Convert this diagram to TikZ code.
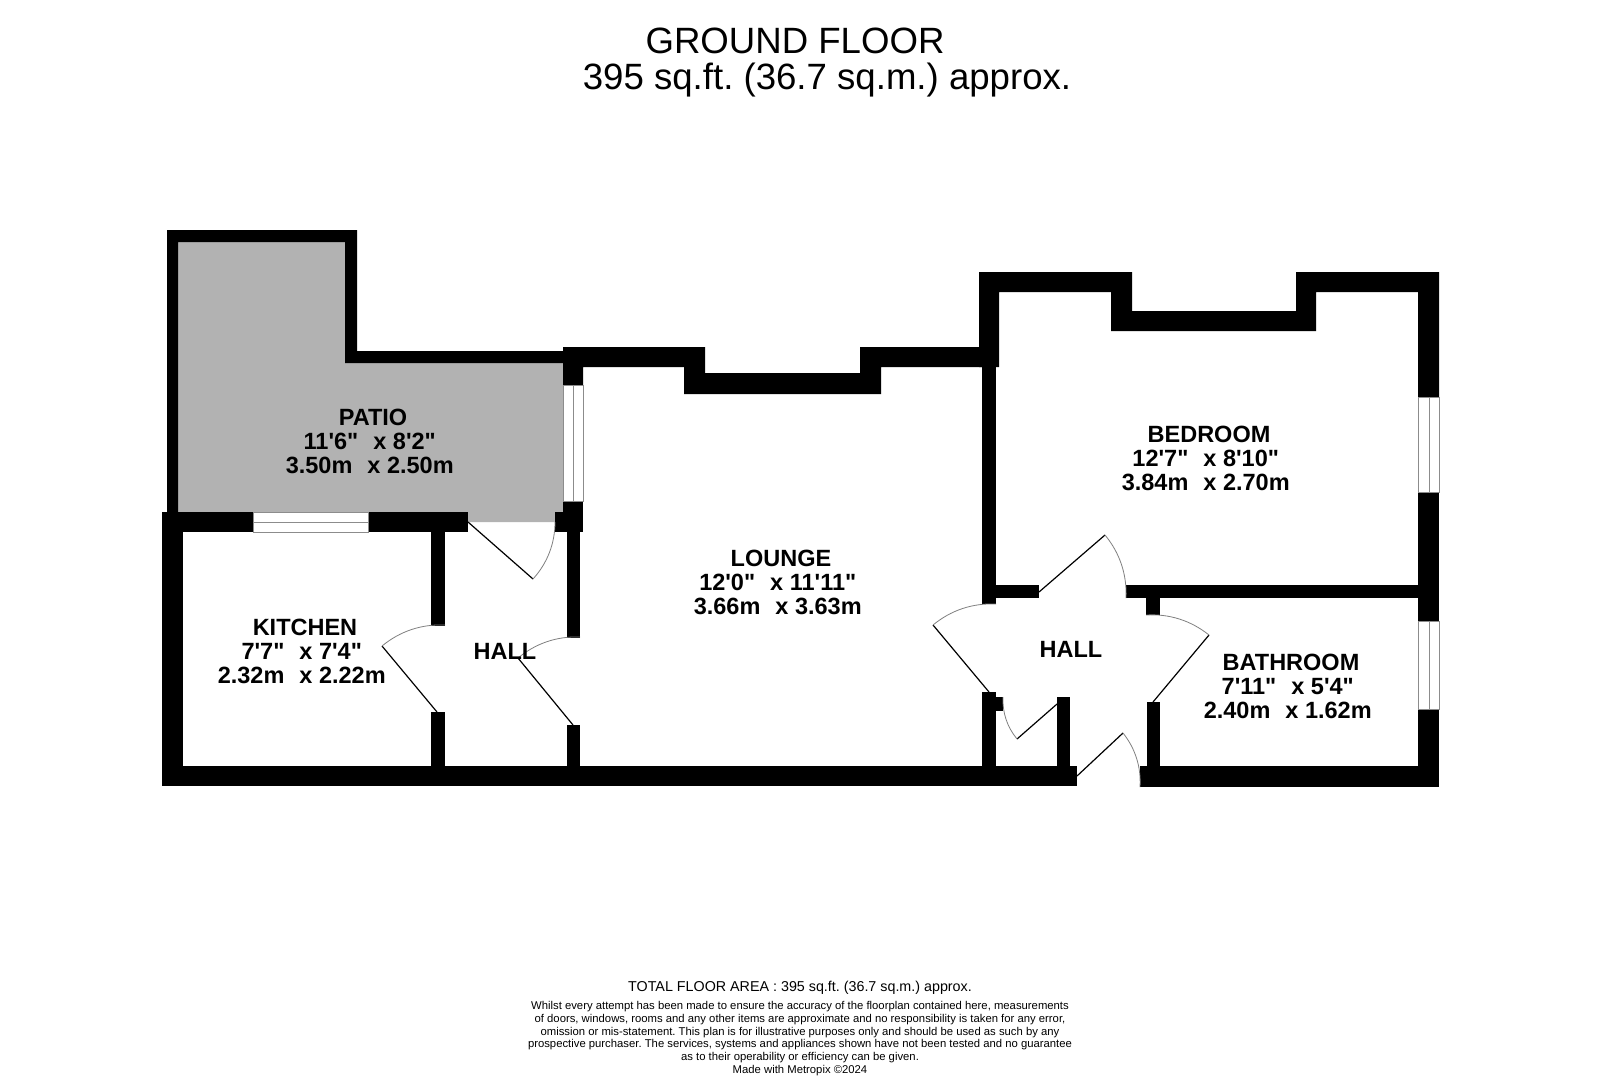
\documentclass[tikz,border=0pt]{standalone}
\usepackage{fontspec}
\newfontfamily\planfont{Liberation Sans}
\newcommand{\widegap}{\ \ \kern2pt}
\newcommand{\tailgap}{\kern6.5pt}
\frenchspacing

\begin{document}
\begin{tikzpicture}
[x=1pt,y=-1pt,
wall/.style={fill=black},
pane/.style={draw=black!45,fill=white,line width=0.8pt},
patio/.style={fill=black!30},
leaf/.style={draw=black,line width=1.2pt},
swing/.style={draw=black!50,line width=0.8pt,looseness=0.9},
room/.style={font=\planfont\bfseries\fontsize{23.5}{24}\selectfont,align=center,inner sep=0pt},
heading/.style={font=\planfont\fontsize{36.6}{38}\selectfont,inner sep=0pt},
notice/.style={font=\planfont\fontsize{11.3}{12.65}\selectfont,align=center,inner sep=0pt}]
\useasboundingbox (0,0) rectangle (1600,1076);
\fill[white] (0,0) rectangle (1600,1076);
% patio floor
\fill[patio] (178,242) -- (345,242) -- (345,363) -- (563,363) -- (563,522) -- (468,522) -- (468,512) -- (178,512) -- cycle;
% patio walls
\fill[wall] (167,230) -- (357,230) -- (357,351) -- (563,351) -- (563,363) -- (345,363) -- (345,242) -- (178,242) -- (178,512) -- (167,512) -- cycle;
% kitchen and left hall
\fill[wall] (162,512) rectangle (253,532);
\fill[wall] (368,512) rectangle (468,532);
\fill[wall] (162,512) rectangle (183,786);
\fill[wall] (162,766) rectangle (1077,786);
\fill[wall] (431,532) rectangle (445,626);
\fill[wall] (431,712) rectangle (445,766);
\fill[wall] (567,532) rectangle (580,638);
\fill[wall] (567,725) rectangle (580,766);
\fill[wall] (563,501) rectangle (583,532);
\fill[wall] (555,512) rectangle (563,532);
% lounge top
\fill[wall] (563,347) -- (705,347) -- (705,373) -- (860,373) -- (860,347) -- (982,347) -- (982,367) -- (881,367) -- (881,394) -- (684,394) -- (684,367) -- (583,367) -- (583,385) -- (563,385) -- cycle;
\fill[wall] (982,360) rectangle (996,604);
% bedroom
\fill[wall] (979,272) -- (1132,272) -- (1132,311) -- (1296,311) -- (1296,272) -- (1439,272) -- (1439,397) -- (1418,397) -- (1418,292) -- (1316,292) -- (1316,331) -- (1111,331) -- (1111,292) -- (999,292) -- (999,367) -- (979,367) -- cycle;
\fill[wall] (996,585) rectangle (1039,598);
\fill[wall] (1126,585) rectangle (1418,598);
\fill[wall] (1146,598) rectangle (1160,615);
\fill[wall] (1418,492) rectangle (1439,621);
% bathroom
\fill[wall] (1418,709) rectangle (1439,787);
\fill[wall] (1140,766) rectangle (1439,787);
\fill[wall] (1147,702) rectangle (1160,766);
% cupboard under the right hall
\fill[wall] (982,692) rectangle (996,766);
\fill[wall] (996,697) rectangle (1003,711);
\fill[wall] (1057,697) rectangle (1070,766);
% windows
\draw[pane] (253,512) rectangle (368,532);
\draw[pane] (253,522) -- (368,522);
\draw[pane] (563,385) rectangle (583,501);
\draw[pane] (573,385) -- (573,501);
\draw[pane] (1418,397) rectangle (1439,492);
\draw[pane] (1429,397) -- (1429,492);
\draw[pane] (1418,621) rectangle (1439,709);
\draw[pane] (1429,621) -- (1429,709);
% doors
\coordinate (h1) at (468,522);
\coordinate (t1) at (533,579);
\coordinate (e1) at (555,522);
\coordinate (h2) at (437,712);
\coordinate (t2) at (382,646);
\coordinate (e2) at (445,625);
\coordinate (h3) at (573,725);
\coordinate (t3) at (518,658);
\coordinate (e3) at (580,637);
\coordinate (h4) at (1039,592);
\coordinate (t4) at (1105,535);
\coordinate (e4) at (1126,598);
\coordinate (h5) at (989,692);
\coordinate (t5) at (933,625);
\coordinate (e5) at (996,604);
\coordinate (h6) at (1057,704);
\coordinate (t6) at (1017,739);
\coordinate (e6) at (1003,697);
\coordinate (h7) at (1077,776);
\coordinate (t7) at (1123,733);
\coordinate (e7) at (1140,787);
\coordinate (h8) at (1153,702);
\coordinate (t8) at (1209,635);
\coordinate (e8) at (1146,615);
\draw[leaf] (h1) -- (t1);
\draw[swing] (t1) to[bend right=21] (e1);
\draw[leaf] (h2) -- (t2);
\draw[swing] (t2) to[bend left=21] (e2);
\draw[leaf] (h3) -- (t3);
\draw[swing] (t3) to[bend left=21] (e3);
\draw[leaf] (h4) -- (t4);
\draw[swing] (t4) to[bend left=21] (e4);
\draw[leaf] (h5) -- (t5);
\draw[swing] (t5) to[bend left=21] (e5);
\draw[leaf] (h6) -- (t6);
\draw[swing] (t6) to[bend left=21] (e6);
\draw[leaf] (h7) -- (t7);
\draw[swing] (t7) to[bend left=21] (e7);
\draw[leaf] (h8) -- (t8);
\draw[swing] (t8) to[bend right=21] (e8);
% labels
\node[heading] at (795,41) (title) {GROUND FLOOR};
\node[heading] at (827,80) (area) {395 sq.ft. (36.7 sq.m.) approx.};
\node[room] at (373,441) (pationame) {PATIO\\11'6"\widegap x 8'2"\tailgap\\3.50m\widegap x 2.50m\tailgap};
\node[room] at (305,651) (kitchen) {KITCHEN\\7'7"\widegap x 7'4"\tailgap\\2.32m\widegap x 2.22m\tailgap};
\node[room] at (505,651) (hallone) {HALL};
\node[room] at (781,582) (lounge) {LOUNGE\\12'0"\widegap x 11'11"\tailgap\\3.66m\widegap x 3.63m\tailgap};
\node[room] at (1209,458) (bedroom) {BEDROOM\\12'7"\widegap x 8'10"\tailgap\\3.84m\widegap x 2.70m\tailgap};
\node[room] at (1071,649) (halltwo) {HALL};
\node[room] at (1291,686) (bathroom) {BATHROOM\\7'11"\widegap x 5'4"\tailgap\\2.40m\widegap x 1.62m\tailgap};
\node[font=\planfont\fontsize{14.3}{16}\selectfont,inner sep=0pt] at (800,988) (total) {TOTAL FLOOR AREA : 395 sq.ft. (36.7 sq.m.) approx.};
\node[notice,anchor=north] at (800,1001.5) (small) {Whilst every attempt has been made to ensure the accuracy of the floorplan contained here, measurements\\of doors, windows, rooms and any other items are approximate and no responsibility is taken for any error,\\omission or mis-statement. This plan is for illustrative purposes only and should be used as such by any\\prospective purchaser. The services, systems and appliances shown have not been tested and no guarantee\\as to their operability or efficiency can be given.\\Made with Metropix ©2024};
\end{tikzpicture}
\end{document}
